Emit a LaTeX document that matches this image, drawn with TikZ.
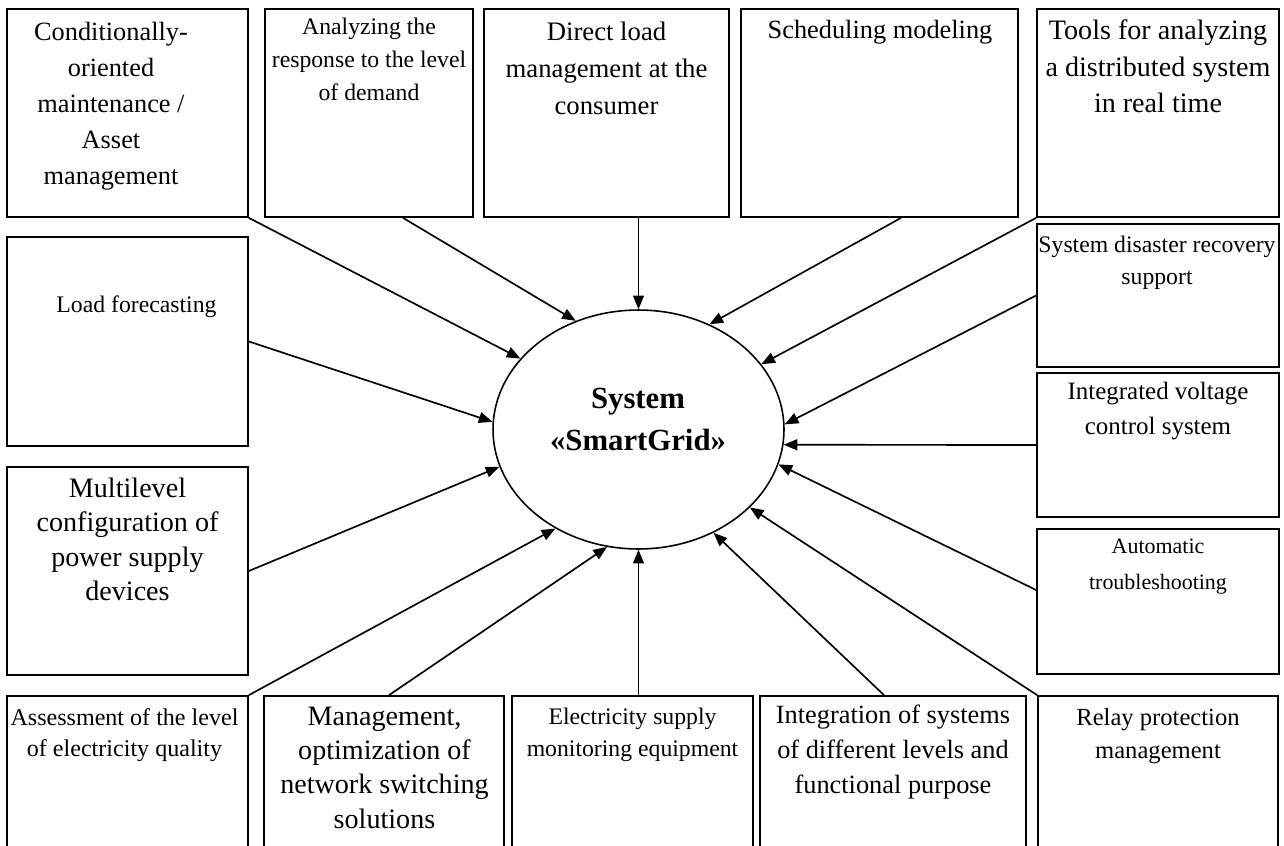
\documentclass[tikz,border=0pt]{standalone}
\usepackage{fontspec}
\setmainfont{Liberation Serif}
\usetikzlibrary{arrows.meta,fit,shapes.geometric}
\newcommand{\fsz}[2]{\fontsize{#1}{#2}\selectfont}

\begin{document}
\begin{tikzpicture}[x=0.02cm,y=-0.02cm,
    box/.style={draw,line width=1pt,inner sep=0pt},
    txt/.style={anchor=north,align=center,inner sep=0pt},
    arr/.style={line width=0.95pt,-{Triangle[length=7.8pt,width=6.2pt]}}]
    \clip (0,0) rectangle (1284,845);

    % boxes, top row
    \node[box,fit={(7,9) (248,217)}] (B1) {};
    \node[box,fit={(265,9) (473,217)}] (B2) {};
    \node[box,fit={(484,9) (729,217)}] (B3) {};
    \node[box,fit={(741,9) (1018,217)}] (B4) {};
    \node[box,fit={(1037,9) (1279,217)}] (B5) {};
    % left and right columns
    \node[box,fit={(7,237) (248,446)}] (B6) {};
    \node[box,fit={(7,467) (248,675)}] (B7) {};
    \node[box,fit={(1037,224) (1279,367)}] (B8) {};
    \node[box,fit={(1037,373) (1279,517)}] (B9) {};
    \node[box,fit={(1037,529) (1279,674)}] (B10) {};
    % bottom row
    \node[box,fit={(7,696) (248,850)}] (B11) {};
    \node[box,fit={(264,696) (504,850)}] (B12) {};
    \node[box,fit={(512,696) (753,850)}] (B13) {};
    \node[box,fit={(760,696) (1026,850)}] (B14) {};
    \node[box,fit={(1038,696) (1278,850)}] (B15) {};

    \node[draw,ellipse,line width=0.9pt,inner sep=0pt,
          minimum width=5.82cm,minimum height=4.78cm] (S) at (638.5,429.5) {};

    \draw[arr] (B1.south east) -- (S.149.9);
    \draw[arr] ([xshift=0.68cm]B2.south) -- (S.120.4);
    \draw[arr] (S.north |- B3.south) -- (S.north);
    \draw[arr] ([xshift=0.43cm]B4.south) -- (S.56.3);
    \draw[arr] (B5.south west) -- (S.28.4);
    \draw[arr] (B6.east) -- (S.177.5);
    \draw[arr] (B7.east) -- (S.195.3);
    \draw[arr] (B8.west) -- (S.2.6);
    \draw[arr] (B9.west) -- (S.354.2);
    \draw[arr] ([yshift=0.23cm]B10.west) -- (S.346.1);
    \draw[arr] (B11.north east) -- (S.230.1);
    \draw[arr] ([xshift=0.1cm]B12.north) -- (S.255.2);
    \draw[arr] (S.south |- B13.north) -- (S.south);
    \draw[arr] ([xshift=-0.18cm]B14.north) -- (S.306.8);
    \draw[arr] (B15.north west) -- (S.325);

%labels
    \node[txt,font=\bfseries\fsz{17.5}{23.5}] (T0) at (638,388) {System\\«SmartGrid»};
    \node[txt,font=\fsz{15}{20.5}] (T1) at (111,22) {Conditionally-\\oriented\\maintenance /\\Asset\\management};
    \node[txt,font=\fsz{13.5}{18.8}] (T2) at (369,18) {Analyzing the\\response to the level\\of demand};
    \node[txt,font=\fsz{15.2}{21}] (T3) at (606.5,22) {Direct load\\management at the\\consumer};
    \node[txt,font=\fsz{15}{21}] (T4) at (880,20) {Scheduling modeling};
    \node[txt,font=\fsz{16}{21}] (T5) at (1158,19) {Tools for analyzing\\a distributed system\\in real time};
    \node[txt,font=\fsz{13.5}{18.8}] (T6) at (136.5,295) {Load forecasting};
    \node[txt,font=\fsz{16}{19.4}] (T7) at (127.5,478) {Multilevel\\configuration of\\power supply\\devices};
    \node[txt,font=\fsz{13.5}{18.2}] (T8) at (1157,236) {System disaster recovery\\support};
    \node[txt,font=\fsz{14.2}{20}] (T9) at (1158,382) {Integrated voltage\\control system};
    \node[txt,font=\fsz{12.5}{20}] (T10) at (1158,539) {Automatic\\troubleshooting};
    \node[txt,font=\fsz{13.7}{17.6}] (T11) at (124.5,708) {Assessment of the level\\of electricity quality};
    \node[txt,font=\fsz{16}{19.4}] (T12) at (384.5,707) {Management,\\optimization of\\network switching\\solutions};
    \node[txt,font=\fsz{13.5}{18.2}] (T13) at (632.5,708) {Electricity supply\\monitoring equipment};
    \node[txt,font=\fsz{15}{19.7}] (T14) at (893,705) {Integration of systems\\of different levels and\\functional purpose};
    \node[txt,font=\fsz{14}{18.8}] (T15) at (1158,708) {Relay protection\\management};

\end{tikzpicture}
\end{document}
